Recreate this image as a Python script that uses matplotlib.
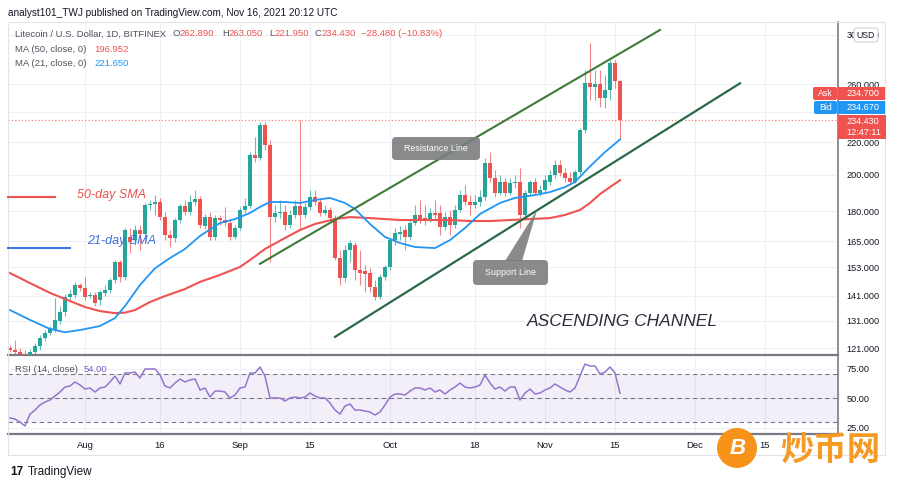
import matplotlib
matplotlib.use('Agg')
import matplotlib.pyplot as plt
import matplotlib.patches as mpatches
from matplotlib.lines import Line2D
from matplotlib.transforms import IdentityTransform
from matplotlib.ticker import FixedLocator, FuncFormatter, NullFormatter
import numpy as np
import pandas as pd

plt.rcParams['font.family'] = ['Liberation Sans', 'DejaVu Sans']

W, H = 900, 486
GREEN, RED, BLUE = '#26a69a', '#ef5350', '#2196f3'
GRID = '#edf1f7'
AXIS = '#787b86'
TEXT = '#131722'
GRAY = '#50535e'

# ── data: LTC/USD daily candles, 17 Jul - 16 Nov 2021 ──
first_day = '2021-07-17'
opens = [121.1, 120.4, 119.7, 119.0, 118.4, 119.7, 121.8, 124.7, 126.5, 127.6,
         131.0, 134.4, 140.4, 141.2, 145.4, 144.1, 140.8, 141.2, 139.2, 142.1,
         143.3, 147.5, 155.4, 148.8, 167.1, 165.6, 170.5, 168.5, 183.3, 183.8,
         184.9, 177.0, 168.1, 166.6, 175.5, 182.8, 179.6, 184.9, 186.5, 172.5,
         177.0, 167.1, 176.5, 175.5, 174.0, 167.1, 171.5, 180.7, 182.8, 211.9,
         210.1, 231.1, 218.1, 177.0, 179.1, 179.6, 173.0, 178.1, 182.8, 178.1,
         182.3, 187.6, 184.9, 179.1, 180.7, 176.5, 157.2, 148.4, 160.9, 163.3,
         151.8, 151.4, 150.5, 144.5, 140.4, 148.8, 153.2, 165.6, 168.5, 170.5,
         167.1, 174.0, 178.1, 176.5, 175.5, 179.1, 179.1, 172.0, 177.0, 173.0,
         180.7, 188.7, 184.9, 183.3, 184.9, 187.6, 207.0, 198.2, 189.8, 196.0,
         189.8, 195.4, 196.0, 178.1, 189.8, 196.0, 189.8, 191.5, 196.0, 200.0,
         205.8, 201.1, 198.2, 196.0, 201.7, 227.8, 261.1, 258.0, 260.3, 249.9,
         255.8, 276.6, 262.89]
highs = [122.2, 124.0, 121.1, 120.4, 120.8, 122.9, 125.8, 127.6, 129.1, 140.0,
         136.8, 141.6, 143.7, 146.7, 146.2, 148.8, 142.5, 142.5, 143.3, 145.4,
         148.4, 156.3, 156.3, 171.5, 171.5, 173.0, 173.0, 184.4, 186.0, 188.7,
         187.1, 179.6, 170.5, 176.5, 183.8, 186.0, 188.7, 191.5, 188.2, 178.6,
         179.6, 178.1, 178.1, 182.3, 175.5, 173.0, 182.3, 187.1, 213.7, 223.2,
         233.2, 233.2, 221.3, 183.3, 186.0, 183.3, 180.7, 186.0, 234.5, 184.4,
         191.5, 191.5, 187.1, 183.3, 182.3, 178.1, 160.9, 163.3, 165.6, 164.7,
         160.9, 154.1, 152.8, 147.5, 150.1, 154.1, 166.6, 171.5, 172.5, 173.0,
         175.5, 183.3, 186.0, 183.3, 181.8, 186.0, 183.3, 179.6, 180.7, 183.3,
         191.5, 194.3, 188.7, 188.7, 191.5, 210.1, 213.7, 202.9, 200.0, 198.2,
         198.2, 200.0, 204.0, 191.5, 197.1, 198.2, 194.3, 200.0, 202.9, 208.8,
         208.8, 204.0, 201.7, 202.9, 229.1, 271.1, 293.1, 271.1, 271.1, 267.2,
         279.0, 279.0, 263.05]
lows = [119.7, 119.0, 118.4, 117.0, 117.0, 118.4, 120.4, 123.6, 125.8, 126.9,
        129.8, 132.9, 139.2, 140.0, 142.9, 139.2, 140.0, 136.8, 137.2, 140.8,
        142.1, 146.2, 146.7, 147.5, 159.5, 163.3, 160.9, 164.7, 180.7, 178.1,
        175.5, 165.6, 162.3, 164.7, 174.0, 178.1, 178.1, 183.3, 171.5, 171.0,
        165.6, 165.6, 173.0, 172.5, 165.6, 166.1, 170.5, 179.1, 181.8, 207.6,
        208.8, 215.0, 155.4, 174.5, 176.5, 170.5, 171.5, 176.5, 171.5, 176.5,
        180.7, 183.3, 177.6, 178.1, 175.5, 156.3, 145.4, 146.7, 155.4, 147.5,
        145.4, 142.5, 142.5, 139.2, 139.6, 147.5, 151.8, 163.3, 165.6, 160.9,
        165.6, 173.0, 174.0, 173.0, 174.5, 175.5, 168.1, 170.5, 168.1, 171.5,
        179.6, 183.3, 178.1, 181.8, 182.8, 186.0, 196.0, 187.6, 188.7, 188.2,
        188.7, 192.6, 171.5, 177.0, 188.2, 188.7, 188.2, 190.3, 194.3, 198.2,
        199.4, 196.0, 194.3, 195.4, 200.5, 225.8, 248.5, 248.5, 243.5, 242.8,
        248.5, 257.3, 221.95]
closes = [120.4, 119.7, 119.0, 118.4, 119.7, 121.8, 124.7, 126.5, 128.3, 131.4,
          134.4, 140.4, 141.6, 145.4, 144.1, 140.4, 141.2, 138.0, 142.5, 143.3,
          147.5, 155.4, 148.8, 170.5, 164.7, 170.5, 168.5, 183.3, 183.8, 184.9,
          177.0, 168.1, 166.6, 175.5, 182.8, 179.6, 184.9, 186.5, 173.0, 177.0,
          167.1, 176.5, 175.5, 174.0, 167.1, 171.5, 180.7, 182.8, 211.9, 210.1,
          231.1, 218.1, 177.0, 179.1, 179.6, 173.0, 178.1, 182.8, 178.1, 182.3,
          187.6, 184.9, 179.1, 180.7, 176.5, 157.2, 148.4, 160.9, 164.2, 151.8,
          150.5, 150.1, 144.5, 140.4, 148.8, 153.2, 165.6, 169.0, 169.5, 167.1,
          174.0, 178.1, 175.5, 175.5, 179.1, 178.1, 172.0, 177.0, 173.0, 180.7,
          188.7, 184.9, 183.3, 184.9, 187.6, 207.0, 198.2, 189.8, 196.0, 189.8,
          195.4, 196.0, 178.1, 189.8, 196.0, 189.8, 191.5, 197.1, 200.0, 205.8,
          201.1, 198.2, 196.0, 201.7, 227.8, 261.1, 258.0, 260.3, 249.9, 255.8,
          276.6, 262.91, 234.43]
rsi = [33.1, 32.2, 29.7, 26.3, 36.4, 39.8, 44.1, 46.6, 48.3, 51.7,
       55.1, 59.3, 60.2, 63.6, 61.0, 57.6, 58.5, 55.1, 58.5, 59.3,
       63.6, 68.6, 61.9, 71.2, 71.2, 72.0, 66.9, 74.6, 74.6, 74.6,
       69.5, 60.2, 58.5, 62.7, 66.1, 63.6, 65.3, 66.1, 56.8, 58.5,
       50.8, 55.9, 55.9, 55.1, 50.0, 52.5, 58.5, 59.3, 71.2, 71.2,
       76.3, 68.6, 50.0, 50.0, 50.0, 47.5, 50.0, 50.8, 50.0, 50.8,
       54.2, 51.7, 50.0, 50.0, 45.8, 39.8, 36.4, 43.2, 44.9, 39.8,
       39.8, 39.0, 38.1, 35.6, 38.1, 44.1, 50.8, 53.4, 53.4, 52.5,
       55.9, 58.5, 58.5, 56.8, 58.5, 55.1, 56.8, 53.4, 56.8, 59.3,
       62.7, 59.3, 58.5, 59.3, 61.0, 69.5, 62.7, 57.6, 59.3, 55.9,
       59.3, 59.3, 48.3, 54.2, 57.6, 53.4, 54.2, 56.8, 58.5, 61.9,
       59.3, 56.8, 55.1, 58.5, 68.6, 78.8, 77.1, 77.1, 70.3, 72.0,
       76.3, 71.2, 54.00]

# moving averages, sampled along the drawn curves (days after 1 Aug)
ma50_days = [-15, -11, -7, -4, 0, 3, 6, 8, 10, 13, 16, 20, 23, 27, 31, 33, 36, 40, 43,
             46, 50, 53, 57, 60, 63, 67, 73, 77, 81, 85, 89, 93, 96, 99, 101, 103, 105, 107]
ma50_vals = [150.5, 146.2, 142.1, 139.6, 136.4, 134.8, 134.0, 134.2, 135.2, 138.4,
             140.8, 143.7, 146.7, 149.7, 153.2, 156.3, 161.4, 166.6, 170.5, 173.5,
             176.0, 177.0, 176.5, 176.0, 175.5, 175.5, 175.5, 175.0, 175.0, 175.5,
             176.0, 176.5, 178.1, 180.7, 184.4, 189.2, 193.1, 196.952]
ma21_days = [-15, -11, -7, -4, -1, 3, 6, 8, 11, 14, 17, 20, 23, 27, 30, 33, 35, 37, 40,
             43, 46, 49, 52, 54, 57, 60, 63, 66, 70, 73, 76, 79, 83, 86, 90, 93, 96, 98,
             101, 104, 107]
ma21_vals = [135.2, 131.4, 128.0, 126.8, 127.6, 129.1, 132.1, 136.8, 145.4, 152.6,
             157.2, 161.4, 167.6, 174.0, 176.0, 179.1, 182.3, 184.9, 184.9, 184.4,
             186.0, 187.1, 184.4, 181.2, 173.5, 167.1, 164.2, 162.3, 161.8, 165.6,
             171.5, 178.6, 184.4, 187.1, 188.7, 190.3, 193.1, 196.0, 205.0, 213.7, 221.65]

# hand-drawn channel lines (days after 1 Aug, price)
resistance_days = [35, 115]
resistance_vals = [154.6, 304.4]
support_days = [50, 131]
support_vals = [125.1, 260.8]

price_ticks = [121, 131, 141, 153, 165, 180, 200, 220, 260, 300]
rsi_ticks = [25, 50, 75]
date_tick_days = [0, 15, 31, 45, 61, 78, 92, 106, 122, 136]
date_tick_labels = ['Aug', '16', 'Sep', '15', 'Oct', '18', 'Nov', '15', 'Dec', '15']

# ── figure ───────────────────────────────────────────────────────────────
fig = plt.figure(figsize=(W / 100, H / 100), dpi=100)
fig.patch.set_facecolor('white')
PIX = IdentityTransform()
renderer = fig.canvas.get_renderer()


def frac(x0, y0, x1, y1):
    return [x0 / W, 1 - y1 / H, (x1 - x0) / W, (y1 - y0) / H]


def ftext(x, y, s, **kw):
    kw.setdefault('va', 'center')
    kw.setdefault('ha', 'left')
    return fig.text(x / W, 1 - y / H, s, **kw)


def run_text(x, y, parts, gap=0, **kw):
    # consecutive coloured pieces on one line
    for s, cc, extra in parts:
        tx = ftext(x, y, s, color=cc, **kw)
        x = tx.get_window_extent(renderer=renderer).x1 + extra
    return x


def fbox(x0, y0, x1, y1, fc, ec='none', lw=0, r=0, alpha=1.0):
    style = f'round,pad=0,rounding_size={r}' if r else 'square,pad=0'
    p = mpatches.FancyBboxPatch((x0, H - y1), x1 - x0, y1 - y0, boxstyle=style,
                                transform=PIX, fc=fc, ec=ec, lw=lw, alpha=alpha)
    fig.add_artist(p)


def fline(xs, ys, **kw):
    fig.add_artist(Line2D(xs, [H - y for y in ys], transform=PIX, **kw))


ax = fig.add_axes(frac(8, 22, 838, 355))
ar = fig.add_axes(frac(8, 356, 838, 434))

dates = pd.date_range(first_day, periods=len(closes))
t = np.asarray((dates - pd.Timestamp('2021-08-01')).days)
o, h, l, c = map(np.asarray, (opens, highs, lows, closes))

# ── price panel ─────────────────────────────────────────────────────────
ax.set_yscale('log')
ax.set_ylim(118.7, 311.5)
ax.set_xlim(-15.4, 150.6)

col = np.where(c >= o, GREEN, RED)
ax.vlines(t, l, h, colors=col, linewidth=0.8, alpha=0.7, zorder=3)
bot = np.minimum(o, c)
top = np.maximum(np.maximum(o, c), bot * 1.004)
ax.bar(t, top - bot, bottom=bot, width=0.72, color=col, linewidth=0, zorder=4)

ax.plot(ma50_days, ma50_vals, color=RED, lw=1.5, zorder=5)
ax.plot(ma21_days, ma21_vals, color=BLUE, lw=1.3, zorder=5)
ax.plot(resistance_days, resistance_vals, color='#3e7b36', lw=1.5, zorder=6)
ax.plot(support_days, support_vals, color='#2a6a47', lw=1.6, zorder=6)
ax.axhline(c[-1], color=RED, lw=0.8, ls=(0, (1, 2)), alpha=0.8, zorder=2)

ax.yaxis.set_major_locator(FixedLocator(price_ticks))
ax.yaxis.set_major_formatter(FuncFormatter(lambda v, _: f'{v:.3f}'))
ax.yaxis.set_minor_locator(FixedLocator([240]))
ax.yaxis.set_minor_formatter(NullFormatter())
ax.yaxis.tick_right()
ax.tick_params(axis='y', which='both', length=0, pad=6, labelsize=6.6, labelcolor=TEXT)
ax.set_xticks(date_tick_days)
ax.tick_params(axis='x', length=0, labelbottom=False)
ax.grid(True, which='both', color=GRID, lw=0.8, zorder=0)
ax.set_axisbelow(True)

# ── RSI panel ───────────────────────────────────────────────────────────
ar.set_xlim(-15.4, 150.6)
ar.set_ylim(19.5, 85.6)
ar.axhspan(30, 70, color='#7e57c2', alpha=0.09, lw=0)
for lvl in (70, 50, 30):
    ar.axhline(lvl, color=AXIS, lw=0.8, ls=(0, (4, 3)))
ar.plot(t, rsi, color='#9575cd', lw=1.1)
ar.set_yticks(rsi_ticks)
ar.yaxis.set_major_formatter(FuncFormatter(lambda v, _: f'{v:.2f}'))
ar.yaxis.tick_right()
ar.tick_params(axis='y', length=0, pad=6, labelsize=6.6, labelcolor=TEXT)
ar.set_xticks(date_tick_days)
ar.set_xticklabels(date_tick_labels)
ar.tick_params(axis='x', length=0, pad=5, labelsize=6.8, labelcolor=TEXT)
ar.grid(True, color=GRID, lw=0.8)
ar.set_axisbelow(True)

for a in (ax, ar):
    a.set_facecolor('none')
    a.spines['top'].set_visible(False)
    a.spines['left'].set_visible(False)
    a.spines['right'].set_color(AXIS)
    a.spines['right'].set_linewidth(1.2)
    a.spines['bottom'].set_color(AXIS)
    a.spines['bottom'].set_linewidth(1.6)

# outer frame
fbox(8, 22, 885, 455, fc='none', ec='#e0e3eb', lw=0.8)

# ── header / legends ────────────────────────────────────────────────────
ftext(8, 13, 'analyst101_TWJ published on TradingView.com, Nov 16, 2021 20:12 UTC',
      fontsize=7.2, color=TEXT)
chg = c[-1] - c[-2]
run_text(15, 34, [
    ('Litecoin / U.S. Dollar, 1D, BITFINEX', GRAY, 6),
    ('O', GRAY, 0), (f'{o[-1]:.3f}', RED, 8),
    ('H', GRAY, 0), (f'{h[-1]:.3f}', RED, 6),
    ('L', GRAY, 0), (f'{l[-1]:.3f}', RED, 6),
    ('C', GRAY, 0), (f'{c[-1]:.3f}', RED, 5),
    (f'\u2212{abs(chg):.3f} (\u2212{abs(chg) / c[-2] * 100:.2f}%)', RED, 0),
], fontsize=6.8)
run_text(15, 49, [('MA (50, close, 0)', GRAY, 8), (f'{ma50_vals[-1]:.3f}', RED, 0)], fontsize=6.8)
run_text(15, 63, [('MA (21, close, 0)', GRAY, 8), (f'{ma21_vals[-1]:.3f}', BLUE, 0)], fontsize=6.8)
run_text(15, 369, [('RSI (14, close)', GRAY, 6), (f'{rsi[-1]:.2f}', '#7e57c2', 0)], fontsize=6.8)

# ── price scale badges ──────────────────────────────────────────────────
fbox(854, 28, 878, 42, fc='white', ec='#c9ccd4', lw=0.7, r=3)
ftext(866, 35, 'USD', fontsize=6.3, color=TEXT, ha='center')
fbox(813, 87, 837, 100, fc=RED, r=2)
ftext(825, 93.5, 'Ask', fontsize=6.3, color='white', ha='center')
fbox(838, 87, 885, 100, fc=RED)
ftext(846, 93.5, '234.700', fontsize=6.6, color='white')
fbox(814, 101, 837, 114, fc=BLUE, r=2)
ftext(825.5, 107.5, 'Bid', fontsize=6.3, color='white', ha='center')
fbox(838, 101, 885, 114, fc=BLUE)
ftext(846, 107.5, '234.670', fontsize=6.6, color='white')
fbox(838, 115, 886, 139, fc=RED)
ftext(846, 121.5, f'{c[-1]:.3f}', fontsize=6.6, color='white')
ftext(846, 132.5, '12:47:11', fontsize=6.6, color='white')

# ── drawing annotations ─────────────────────────────────────────────────
fline([8, 55], [197, 197], color=RED, lw=1.5)
ftext(77, 195, '50-day SMA', fontsize=9, color='#e5534b', style='italic')
fline([8, 70], [248, 248], color='#3b78e7', lw=1.5)
ftext(87, 241, '21-day SMA', fontsize=9, color='#3d6ee0', style='italic')

fbox(392, 137, 480, 160, fc='#7b7d80', r=4, alpha=0.9)
ftext(436, 148.5, 'Resistance Line', fontsize=6.4, color='white', ha='center')
fig.add_artist(mpatches.Polygon([(505, H - 261), (522, H - 261), (537, H - 210)],
                                closed=True, transform=PIX, fc='#7b7d80', ec='none', alpha=0.9))
fbox(473, 260, 548, 285, fc='#7b7d80', r=4, alpha=0.9)
ftext(510.5, 272.5, 'Support Line', fontsize=6.4, color='white', ha='center')

ftext(527, 322, 'ASCENDING CHANNEL', fontsize=12.5, color='#2a2e39', style='italic')

# ── footer / watermark ──────────────────────────────────────────────────
ftext(10, 472, '17', fontsize=8.5, color=TEXT, fontweight='heavy')
ftext(28, 472, 'TradingView', fontsize=8.5, color=TEXT)

fig.add_artist(mpatches.Circle((737, H - 448), 20, transform=PIX, fc='#f7931a', ec='none'))
ftext(738, 448, 'B', fontsize=16, color='white', ha='center', fontweight='bold', style='italic')
ftext(830, 450, '炒币网', fontsize=24, color='#f59b23', ha='center', fontweight='bold',
      family=['Noto Sans CJK SC', 'DejaVu Sans'])

fig.savefig('out.png', dpi=100, facecolor='white')
